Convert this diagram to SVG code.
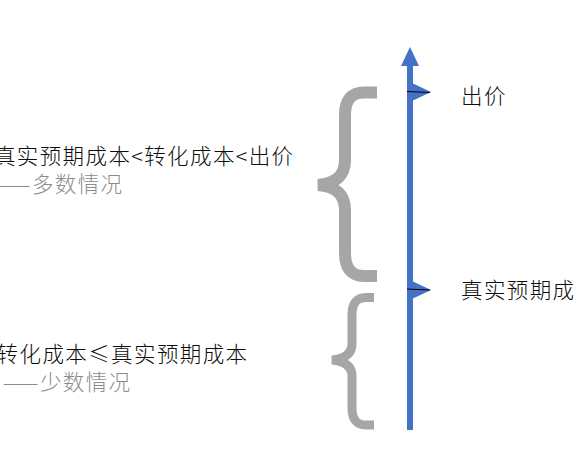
<svg xmlns="http://www.w3.org/2000/svg" width="576" height="452" viewBox="0 0 576 452">
<style>
text{font-family:"Microsoft YaHei","Noto Sans CJK SC","Noto Sans",sans-serif;font-size:21.5px;font-weight:300;letter-spacing:1.4px}
.k{fill:#0d0d0d}
.g{fill:#8c8c8c}
.brace{fill:none;stroke:#a6a6a6;stroke-linecap:butt}
.flag{fill:#4472c4}
.tick{stroke:#000;stroke-width:1}
</style>
<rect width="576" height="452" fill="#fff"/>
<g id="connectors">
<line x1="410" y1="60" x2="410" y2="430" stroke="#4472c4" stroke-width="6"/>
<polygon points="410,47 401,66 419,66" fill="#4472c4"/>
</g>
<g id="node-bid">
<polygon class="flag" points="412,83 431,92 412,101"/>
<line class="tick" x1="407" y1="91.5" x2="430" y2="92.5"/>
<text class="k" x="461" y="104">出价</text>
</g>
<g id="node-true">
<polygon class="flag" points="412,281 431,290 412,299"/>
<line class="tick" x1="407" y1="289" x2="430" y2="290"/>
<text class="k" x="461" y="298">真实预期成</text>
</g>
<g id="brace-majority">
<path class="brace" stroke-width="12" d="M377,92.5 H364 Q345,92.5 345,115 V160 Q345,183 318,185 Q345,187 345,210 V253 Q345,276 364,276 H377"/>
</g>
<g id="brace-minority">
<path class="brace" stroke-width="9" d="M374,297.5 H366 Q352,297.5 352,315 V344 Q352,358 332,360 Q352,362 352,376 V408 Q352,425 366,425 H374"/>
</g>
<g id="label-majority">
<text class="k" x="294.5" y="164" text-anchor="end">真实预期成本&lt;转化成本&lt;出价</text>
<text class="g" x="123.5" y="192" text-anchor="end">——多数情况</text>
</g>
<g id="label-minority">
<text class="k" x="248.5" y="362" text-anchor="end">转化成本≤真实预期成本</text>
<text class="g" x="131.5" y="390" text-anchor="end">——少数情况</text>
</g>
</svg>
